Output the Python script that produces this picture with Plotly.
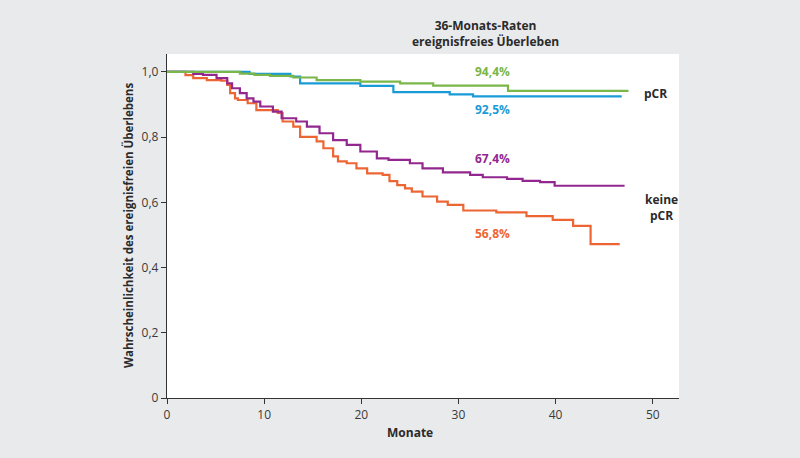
import plotly.graph_objects as go

# Data
green_t = [0, 7.5, 9.0, 10.6, 13.0, 15.4, 19.9, 24.0, 27.4, 35.1, 47.5]
green_s = [1.0, 0.995, 0.991, 0.988, 0.983, 0.975, 0.970, 0.965, 0.958, 0.942, 0.942]

blue_t = [0, 8.5, 12.7, 13.7, 19.9, 23.3, 29.1, 31.5, 46.8]
blue_s = [1.0, 0.994, 0.986, 0.965, 0.957, 0.938, 0.931, 0.925, 0.925]

purple_t = [0, 2.7, 3.7, 5.1, 6.2, 6.7, 7.5, 8.2, 8.9, 9.6, 10.9, 11.8, 13.3, 14.4,
            15.7, 17.1, 18.5, 19.9, 21.6, 22.8, 25.0, 26.3, 28.4, 31.2, 32.5, 35.0,
            36.6, 38.4, 39.9, 47.1]
purple_s = [1.0, 0.994, 0.991, 0.981, 0.965, 0.950, 0.935, 0.919, 0.909, 0.894, 0.878,
            0.858, 0.848, 0.832, 0.812, 0.791, 0.776, 0.756, 0.735, 0.730, 0.720, 0.704,
            0.692, 0.684, 0.677, 0.672, 0.666, 0.662, 0.651, 0.651]

orange_t = [0, 1.9, 2.7, 4.1, 5.6, 6.2, 6.5, 7.0, 7.3, 8.3, 9.2, 11.4, 11.9, 13.0, 13.7,
            15.4, 16.1, 17.1, 17.6, 18.5, 19.5, 20.6, 22.2, 22.9, 23.7, 24.5, 25.2, 26.3,
            27.8, 28.9, 30.5, 33.9, 37.0, 39.7, 41.8, 43.6, 46.6]
orange_s = [1.0, 0.990, 0.981, 0.975, 0.973, 0.960, 0.935, 0.919, 0.914, 0.904, 0.883,
            0.874, 0.848, 0.832, 0.801, 0.787, 0.766, 0.741, 0.726, 0.720, 0.704, 0.689,
            0.684, 0.665, 0.653, 0.643, 0.633, 0.618, 0.602, 0.592, 0.575, 0.569, 0.558,
            0.546, 0.528, 0.472, 0.472]

rate_labels = ["94,4%", "92,5%", "67,4%", "56,8%"]
rate_y = [1.0, 0.885, 0.735, 0.505]
x_ticks = [0, 10, 20, 30, 40, 50]
y_ticks = [0, 0.2, 0.4, 0.6, 0.8, 1.0]
y_ticktext = ["0", "0,2", "0,4", "0,6", "0,8", "1,0"]

GREEN = "#7ab648"
BLUE = "#1a9bd7"
PURPLE = "#92278f"
ORANGE = "#ee6534"
FONT = "Open Sans"
DARK = "#2b2b2b"

fig = go.Figure()
for t, s, c in [(orange_t, orange_s, ORANGE), (purple_t, purple_s, PURPLE),
                (blue_t, blue_s, BLUE), (green_t, green_s, GREEN)]:
    fig.add_trace(go.Scatter(x=t, y=s, mode="lines", line=dict(color=c, width=2.2, shape="hv"),
                             showlegend=False, hoverinfo="skip"))

for lab, y, c in zip(rate_labels, rate_y, [GREEN, BLUE, PURPLE, ORANGE]):
    fig.add_annotation(x=33.5, y=y, text="<b>" + lab + "</b>", showarrow=False,
                       font=dict(family=FONT, size=12, color=c), xanchor="center", yanchor="middle")

fig.add_annotation(x=50.3, y=0.935, text="<b>pCR</b>", showarrow=False, xanchor="center",
                   font=dict(family=FONT, size=12, color=DARK))
fig.add_annotation(x=50.9, y=0.585, text="<b>keine<br>pCR</b>", showarrow=False, xanchor="center",
                   font=dict(family=FONT, size=12, color=DARK))

fig.add_annotation(xref="paper", yref="paper", x=(485 - 167) / 512, y=(398 - 34) / 344,
                   text="<b>36-Monats-Raten<br>ereignisfreies Überleben</b>", showarrow=False,
                   xanchor="center", yanchor="middle",
                   font=dict(family=FONT, size=12, color=DARK))

# axis titles placed as in the reference
fig.add_annotation(xref="paper", yref="paper", x=(410 - 167) / 512, y=(398 - 432) / 344,
                   text="<b>Monate</b>", showarrow=False, xanchor="center", yanchor="middle",
                   font=dict(family=FONT, size=12, color=DARK))
fig.add_annotation(xref="paper", yref="paper", x=(128 - 167) / 512, y=0.5,
                   text="<b>Wahrscheinlichkeit des ereignisfreien Überlebens</b>", showarrow=False,
                   textangle=-90, xanchor="center", yanchor="middle",
                   font=dict(family=FONT, size=11.5, color=DARK))

fig.update_layout(
    width=800, height=458,
    margin=dict(l=167, r=121, t=54, b=60, autoexpand=False),
    paper_bgcolor="#e9eaec",
    plot_bgcolor="#ffffff",
    font=dict(family=FONT, size=12, color="#3a3a3a"),
    xaxis=dict(range=[0, 52.7], tickvals=x_ticks, showgrid=False, zeroline=False,
               showline=True, linecolor="#333333", linewidth=1.3, ticks="outside",
               ticklen=5, tickcolor="#333333", tickfont=dict(size=12, color="#3a3a3a")),
    yaxis=dict(range=[0, 1.055], tickvals=y_ticks, ticktext=y_ticktext, showgrid=False,
               zeroline=False, showline=True, linecolor="#333333", linewidth=1.3,
               ticks="outside", ticklen=5, tickcolor="#333333",
               tickfont=dict(size=12, color="#3a3a3a")),
)

fig.write_html("out.html", config={"displayModeBar": False},
               post_script="document.body.style.margin='0';document.body.style.padding='0';"
                           "document.body.style.background='#e9eaec';")
